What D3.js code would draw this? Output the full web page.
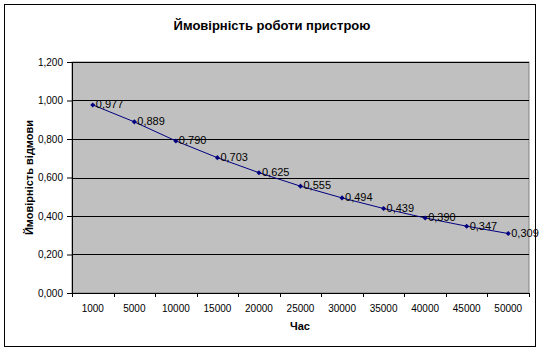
<!DOCTYPE html>
<html>
<head>
<meta charset="utf-8">
<script src="https://cdn.jsdelivr.net/npm/d3@7"></script>
<style>
  body { margin: 0; background: #fff; }
  svg text { font-family: "Liberation Sans", Arial, sans-serif; }
</style>
</head>
<body>
<svg id="chart" width="542" height="353"></svg>
<script>
// data
var hours = ['1000','5000','10000','15000','20000','25000','30000','35000','40000','45000','50000'];
var prob = [0.977, 0.889, 0.790, 0.703, 0.625, 0.555, 0.494, 0.439, 0.390, 0.347, 0.309];
var yTicks = [0, 0.2, 0.4, 0.6, 0.8, 1.0, 1.2];

var plotL = 72, plotT = 62, plotR = 529, plotB = 293;
var width = plotR - plotL, height = plotB - plotT;

var svg = d3.select('#chart');
var comma = function(f){ return function(v){ return d3.format(f)(v).replace('.', ','); }; };

// outer frame
svg.append('rect')
   .attr('x', 4.5).attr('y', 4.5).attr('width', 531).attr('height', 342)
   .attr('fill', '#fff').attr('stroke', '#000').attr('stroke-width', 1);

svg.append('text')
   .attr('x', 272).attr('y', 30)
   .attr('text-anchor', 'middle')
   .attr('font-size', 13).attr('font-weight', 'bold')
   .text('Ймовірність роботи пристрою');

var x = d3.scaleBand().domain(hours).range([0, width]);
var y = d3.scaleLinear().domain([0, 1.2]).range([height, 0]);

var g = svg.append('g').attr('transform', 'translate(' + plotL + ',' + plotT + ')');

g.append('rect')
 .attr('width', width).attr('height', height)
 .attr('fill', '#c0c0c0').attr('stroke', '#808080');

// gridlines
g.selectAll('line.grid')
 .data(yTicks.filter(function(d){ return d > 0; }))
 .join('line')
   .attr('class', 'grid')
   .attr('x1', 0).attr('x2', width)
   .attr('y1', function(d){ return Math.round(y(d)) + 0.5; })
   .attr('y2', function(d){ return Math.round(y(d)) + 0.5; })
   .attr('stroke', '#000');

// y axis
var yAxis = g.append('g')
  .call(d3.axisLeft(y).tickValues(yTicks).tickFormat(comma('.3f')).tickSize(5).tickSizeOuter(0));
yAxis.select('.domain').attr('stroke', '#000');
yAxis.selectAll('text').attr('font-size', 10).attr('fill', '#000').attr('x', -9);

// x axis: ticks on category boundaries
var xAxis = g.append('g').attr('transform', 'translate(0,' + height + ')')
  .call(d3.axisBottom(x).tickSize(0));
xAxis.select('.domain').attr('stroke', '#000');
xAxis.selectAll('text').attr('font-size', 10).attr('fill', '#000').attr('dy', '1.6em');
var bounds = hours.map(function(h){ return x(h); }).concat([width]);
xAxis.selectAll('line.bound')
  .data(bounds)
  .join('line')
    .attr('class', 'bound')
    .attr('x1', function(d){ return Math.round(d) + 0.5; })
    .attr('x2', function(d){ return Math.round(d) + 0.5; })
    .attr('y1', 0).attr('y2', 4)
    .attr('stroke', '#000');

// series
var cx = function(d, i){ return x(hours[i]) + x.bandwidth() / 2; };
var line = d3.line()
  .x(function(d, i){ return cx(d, i); })
  .y(function(d){ return y(d); });

g.append('path')
 .datum(prob)
 .attr('d', line)
 .attr('fill', 'none')
 .attr('stroke', '#000080')
 .attr('stroke-width', 1);

g.selectAll('path.marker')
 .data(prob)
 .join('path')
   .attr('class', 'marker')
   .attr('d', d3.symbol().type(d3.symbolSquare).size(13))
   .attr('transform', function(d, i){ return 'translate(' + cx(d, i) + ',' + y(d) + ') rotate(45)'; })
   .attr('fill', '#000080');

g.selectAll('text.lbl')
 .data(prob)
 .join('text')
   .attr('class', 'lbl')
   .attr('x', function(d, i){ return cx(d, i) + 3; })
   .attr('y', function(d){ return y(d); })
   .attr('dy', '0.3em')
   .attr('font-size', 11)
   .attr('fill', '#000')
   .text(comma('.3f'));

// axis titles
svg.append('text')
   .attr('x', 300).attr('y', 330)
   .attr('text-anchor', 'middle')
   .attr('font-size', 11).attr('font-weight', 'bold')
   .text('Час');

svg.append('text')
   .attr('transform', 'translate(33,' + (plotT + height / 2) + ') rotate(-90)')
   .attr('text-anchor', 'middle')
   .attr('font-size', 11).attr('font-weight', 'bold')
   .text('Ймовірність відмови');
</script>
</body>
</html>
